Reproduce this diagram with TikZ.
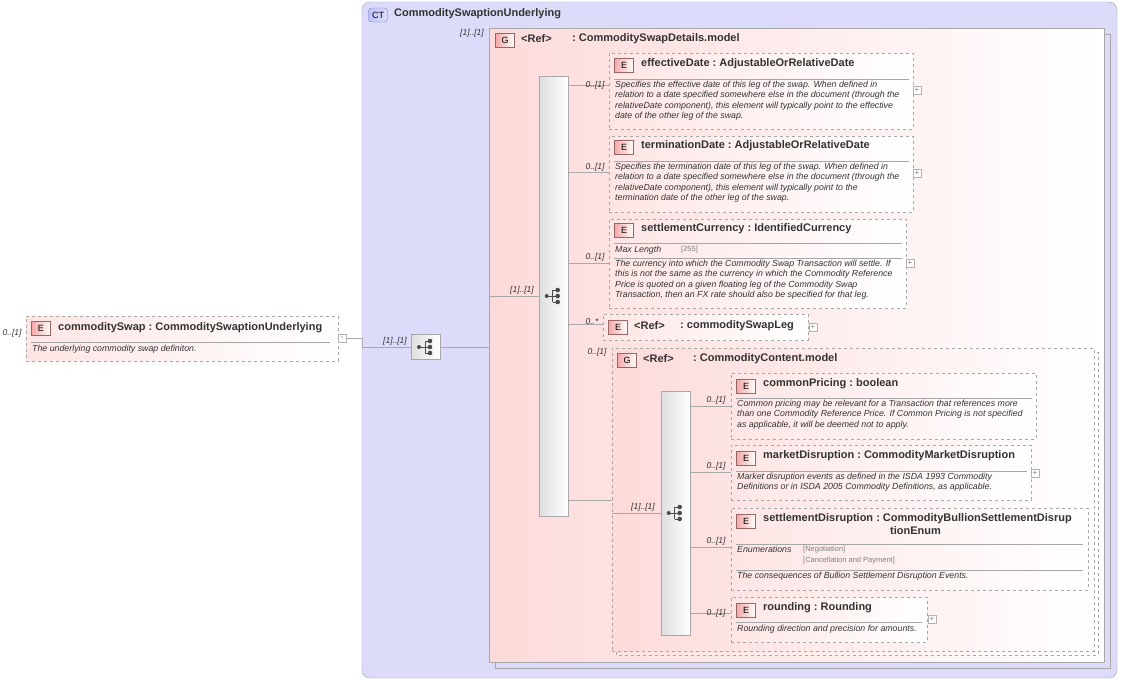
\documentclass[tikz,border=0pt]{standalone}
\usepackage{fontspec}
\setmainfont{Liberation Sans}
\usetikzlibrary{calc}
\definecolor{ctfill}{HTML}{DCDCFA}
\definecolor{ctline}{HTML}{A0A0B8}
\definecolor{pinkL}{HTML}{FDDADA}
\definecolor{badgeE}{HTML}{F4A8A8}
\definecolor{grayline}{HTML}{A8A8A8}
\tikzset{
  elem/.style={draw=grayline,dashed,left color=pinkL!70,right color=white,rectangle,inner sep=0pt},
  grp/.style={draw=grayline,rectangle,left color=pinkL,right color=white,inner sep=0pt},
  badge/.style={draw=gray!80!red,left color=badgeE,right color=white,minimum width=19pt,minimum height=14pt,inner sep=0pt,font=\fontsize{9}{9}\selectfont},
  ttl/.style={anchor=west,inner sep=0pt,font=\fontsize{11}{12}\selectfont\bfseries,text=black!80},
  dsc/.style={anchor=north west,inner sep=0pt,align=left,font=\fontsize{8.8}{10.4}\selectfont\itshape,text=black!80},
  card/.style={inner sep=0pt,font=\fontsize{8.5}{9}\selectfont\itshape,text=black!80},
  seqbar/.style={draw=grayline,left color=gray!25,right color=white,rectangle,inner sep=0pt},
  conn/.style={draw=grayline,line width=.6pt},
  pm/.style={draw=gray!60,fill=white,minimum size=8pt,inner sep=0pt,font=\fontsize{8}{8}\selectfont,text=gray},
  sep/.style={draw=gray!70,line width=.5pt}
}
\newcommand{\seqicon}[1]{%
  \fill[black!70] ($(#1)+(-7,0)$) circle (2);
  \draw[black!70,line width=.8pt] ($(#1)+(-7,0)$) -- ($(#1)+(-1,0)$) ($(#1)+(-1,-6)$) -- ($(#1)+(-1,6)$)
     ($(#1)+(-1,-6)$) -- ($(#1)+(4,-6)$) ($(#1)+(-1,0)$) -- ($(#1)+(4,0)$) ($(#1)+(-1,6)$) -- ($(#1)+(4,6)$);
  \foreach \dy in {-6,0,6} \fill[black!70] ($(#1)+(4,\dy)$) circle (2.3);}
\newcommand{\tsep}{\ :\ }
\begin{document}
\begin{tikzpicture}[x=1pt,y=-1pt]
\useasboundingbox (0,0) rectangle (1122,680);

% complex type
\draw[ctline,fill=ctfill,rounded corners=8pt] (362,2) rectangle (1117,678);
\node[badge,draw=ctline!80!blue,left color=ctfill!60!blue!50,right color=ctfill,rounded corners=3pt] (ctB) at (378,15) {CT};
\node[ttl] (ctT) at (394,14) {CommoditySwaptionUnderlying};

% root element
\node[elem,minimum width=312pt,minimum height=45pt,anchor=north west] (root) at (26,316) {};
\node[badge] (rootB) at (41,328) {E};
\node[ttl] at (58,328) {commoditySwap\tsep CommoditySwaptionUnderlying};
\draw[sep] (31,342) -- (330,342);
\node[dsc] at (32,345) {The underlying commodity swap definiton.};
\node[card] at (12,333) {0..[1]};
\node[pm] (rootM) at (342,338) {-};

% outer sequence
\node[seqbar,minimum width=29pt,minimum height=25pt] (seq0) at (426,347) {};
\seqicon{seq0}
\node[card] at (395,341) {[1]..[1]};
\draw[conn] (rootM.east) -- (362,338) |- (seq0.west);

% group CommoditySwapDetails
\draw[grayline] (495,34) rectangle (1110,668);
\node[grp,minimum width=615pt,minimum height=634pt,anchor=north west] (grp1) at (489,28) {};
\node[badge] (g1B) at (505,40) {G};
\node[ttl] at (521,39) {<Ref>};
\node[ttl] at (572,39) {:\ CommoditySwapDetails.model};
\node[card] at (472,33) {[1]..[1]};
\draw[conn] (seq0.east) -- (grp1.west |- seq0.east);

% sequence in group
\node[seqbar,minimum width=29pt,minimum height=440pt,anchor=north west] (seq1) at (539,76) {};
\seqicon{seq1.center |- 0,296}
\node[card] at (522,290) {[1]..[1]};
\draw[conn] (grp1.west |- 0,296) -- (seq1.west |- 0,296);

% effectiveDate
\node[elem,minimum width=304pt,minimum height=76pt,anchor=north west] (effD) at (609,53) {};
\node[badge] at (624,65) {E};
\node[ttl] at (641,64) {effectiveDate\tsep AdjustableOrRelativeDate};
\draw[sep] (614,79) -- (909,79);
\node[dsc] at (615,81) {Specifies the effective date of this leg of the swap. When defined in\\relation to a date specified somewhere else in the document (through the\\relativeDate component), this element will typically point to the effective\\date of the other leg of the swap.};
\node[pm] (effP) at (917,90) {+};
\draw[conn] (seq1.east |- 0,85) -- (effD.west |- 0,85);
\node[card] at (595,85) {0..[1]};

% terminationDate
\node[elem,minimum width=304pt,minimum height=76pt,anchor=north west] (termD) at (609,136) {};
\node[badge] at (624,147) {E};
\node[ttl] at (641,146) {terminationDate\tsep AdjustableOrRelativeDate};
\draw[sep] (614,161) -- (909,161);
\node[dsc] at (615,163) {Specifies the termination date of this leg of the swap. When defined in\\relation to a date specified somewhere else in the document (through the\\relativeDate component), this element will typically point to the\\termination date of the other leg of the swap.};
\node[pm] (termP) at (917,173) {+};
\draw[conn] (seq1.east |- 0,172) -- (termD.west |- 0,172);
\node[card] at (595,167) {0..[1]};

% settlementCurrency
\node[elem,minimum width=297pt,minimum height=89pt,anchor=north west] (setC) at (609,219) {};
\node[badge] at (624,230) {E};
\node[ttl] at (641,229) {settlementCurrency\tsep IdentifiedCurrency};
\draw[sep] (614,243) -- (902,243);
\node[dsc] at (615,246) {Max Length};
\node[card,anchor=north west,font=\fontsize{7.5}{8}\selectfont,text=gray] at (681,246) {[255]};
\draw[sep] (614,258) -- (902,258);
\node[dsc] at (615,260) {The currency into which the Commodity Swap Transaction will settle. If\\this is not the same as the currency in which the Commodity Reference\\Price is quoted on a given floating leg of the Commodity Swap\\Transaction, then an FX rate should also be specified for that leg.};
\node[pm] (setP) at (910,263) {+};
\draw[conn] (seq1.east |- 0,263) -- (setC.west |- 0,263);
\node[card] at (595,257) {0..[1]};

% commoditySwapLeg
\node[elem,minimum width=205pt,minimum height=26pt,anchor=north west] (legR) at (603,314) {};
\node[badge] at (618,327) {E};
\node[ttl] at (634,326) {<Ref>};
\node[ttl] at (680,326) {:\ commoditySwapLeg};
\node[pm] (legP) at (813,327) {+};
\draw[conn] (seq1.east |- 0,324) -- (legR.west |- 0,324);
\node[card] at (592,322) {0..*};

% group CommodityContent
\draw[grayline,dashed] (616,352) rectangle (1098,655);
\node[elem,left color=pinkL,minimum width=482pt,minimum height=303pt,anchor=north west] (grp2) at (612,348) {};
\node[badge] (g2B) at (627,360) {G};
\node[ttl] at (643,359) {<Ref>};
\node[ttl] at (693,359) {:\ CommodityContent.model};
\node[card] at (597,352) {0..[1]};
\draw[conn] (seq1.east |- 0,500) -- (grp2.west |- 0,500);

\node[seqbar,minimum width=29pt,minimum height=244pt,anchor=north west] (seq2) at (661,391) {};
\seqicon{seq2.center |- 0,513}
\node[card] at (643,507) {[1]..[1]};
\draw[conn] (grp2.west |- 0,513) -- (seq2.west |- 0,513);

% commonPricing
\node[elem,minimum width=305pt,minimum height=66pt,anchor=north west] (comP) at (731,373) {};
\node[badge] at (746,386) {E};
\node[ttl] at (763,384) {commonPricing\tsep boolean};
\draw[sep] (736,398) -- (1032,398);
\node[dsc] at (737,400) {Common pricing may be relevant for a Transaction that references more\\than one Commodity Reference Price. If Common Pricing is not specified\\as applicable, it will be deemed not to apply.};
\draw[conn] (seq2.east |- 0,406) -- (comP.west |- 0,406);
\node[card] at (716,400) {0..[1]};

% marketDisruption
\node[elem,minimum width=300pt,minimum height=55pt,anchor=north west] (mktD) at (731,445) {};
\node[badge] at (746,458) {E};
\node[ttl] at (763,456) {marketDisruption\tsep CommodityMarketDisruption};
\draw[sep] (736,471) -- (1027,471);
\node[dsc] at (737,473) {Market disruption events as defined in the ISDA 1993 Commodity\\Definitions or in ISDA 2005 Commodity Definitions, as applicable.};
\node[pm] (mktP) at (1035,473) {+};
\draw[conn] (seq2.east |- 0,472) -- (mktD.west |- 0,472);
\node[card] at (716,466) {0..[1]};

% settlementDisruption
\node[elem,minimum width=357pt,minimum height=82pt,anchor=north west] (setD) at (731,508) {};
\node[badge] at (746,521) {E};
\node[ttl] at (763,519) {settlementDisruption\tsep CommodityBullionSettlementDisrup};
\node[ttl] at (890,531) {tionEnum};
\draw[sep] (736,544) -- (1083,544);
\node[dsc] at (737,546) {Enumerations};
\node[card,anchor=north west,align=left,font=\fontsize{7.5}{10.5}\selectfont,text=gray] at (803,546) {[Negotiation]\\{}[Cancellation and Payment]};
\draw[sep] (736,570) -- (1083,570);
\node[dsc] at (737,572) {The consequences of Bullion Settlement Disruption Events.};
\draw[conn] (seq2.east |- 0,547) -- (setD.west |- 0,547);
\node[card] at (716,541) {0..[1]};

% rounding
\node[elem,minimum width=196pt,minimum height=45pt,anchor=north west] (rndG) at (731,597) {};
\node[badge] at (746,610) {E};
\node[ttl] at (763,608) {rounding\tsep Rounding};
\draw[sep] (736,622) -- (922,622);
\node[dsc] at (737,625) {Rounding direction and precision for amounts.};
\node[pm] (rndP) at (932,619) {+};
\draw[conn] (seq2.east |- 0,613) -- (rndG.west |- 0,613);
\node[card] at (716,613) {0..[1]};
\end{tikzpicture}
\end{document}
